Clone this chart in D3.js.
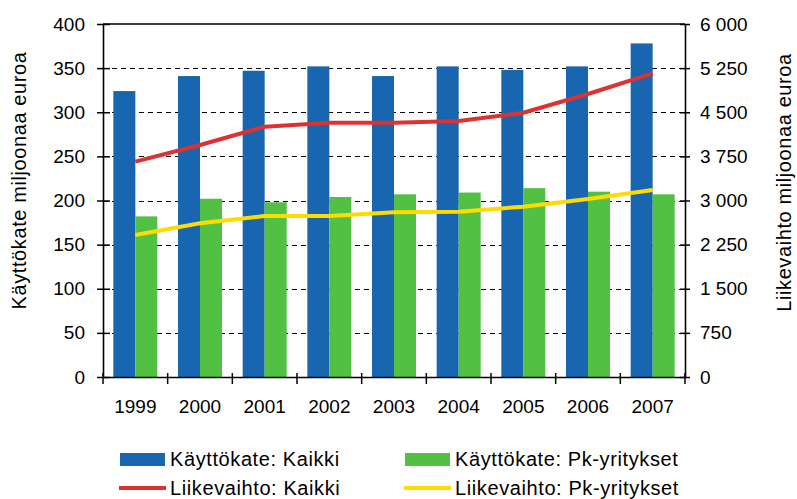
<!DOCTYPE html>
<html>
<head>
<meta charset="utf-8">
<script src="https://cdn.jsdelivr.net/npm/d3@7"></script>
<style>
  html, body { margin: 0; padding: 0; background: #fff; }
  svg { display: block; }
  text { font-family: "Liberation Sans", Arial, sans-serif; fill: #000; }
</style>
</head>
<body>
<svg id="chart" width="797" height="499"></svg>
<script>
// ---- data ----
const years = ["1999", "2000", "2001", "2002", "2003", "2004", "2005", "2006", "2007"];
const kayttokateKaikki = [324, 341, 347, 352, 341, 352, 348, 352, 378];
const kayttokatePk = [182, 202, 198, 204, 207, 209, 214, 210, 207];
const liikevaihtoKaikki = [3660, 3944, 4255, 4323, 4323, 4350, 4493, 4810, 5162];
const liikevaihtoPk = [2414, 2612, 2737, 2737, 2800, 2810, 2895, 3026, 3179];
const leftTicks = [0, 50, 100, 150, 200, 250, 300, 350, 400];
const rightTicks = [0, 750, 1500, 2250, 3000, 3750, 4500, 5250, 6000];
const barSeries = ["Käyttökate: Kaikki", "Käyttökate: Pk-yritykset"];
const lineSeries = ["Liikevaihto: Kaikki", "Liikevaihto: Pk-yritykset"];
const leftTitle = "Käyttökate miljoonaa euroa";
const rightTitle = "Liikevaihto miljoonaa euroa";

// ---- styles ----
const colors = {
  blue: "#1966b0",
  green: "#52c043",
  red: "#de3232",
  yellow: "#ffdc00"
};

const svg = d3.select("#chart");
const m = { left: 103, right: 685, top: 24, bottom: 377 };

const x0 = d3.scaleBand().domain(years).range([m.left, m.right]).padding(0);
const x1 = d3.scaleBand().domain(barSeries).range([0, x0.bandwidth()])
  .paddingInner(0).paddingOuter(0.47);
const yL = d3.scaleLinear().domain([0, 400]).range([m.bottom, m.top]);
const yR = d3.scaleLinear().domain([0, 6000]).range([m.bottom, m.top]);

const fiLocale = d3.formatLocale({ decimal: ",", thousands: " ", grouping: [3], currency: ["", " €"] });
const fmtR = fiLocale.format(",d");

// gridlines
svg.append("g").selectAll("line")
  .data(leftTicks.filter(d => d > 0 && d < 400))
  .join("line")
  .attr("x1", m.left).attr("x2", m.right)
  .attr("y1", d => Math.round(yL(d)) + 0.5).attr("y2", d => Math.round(yL(d)) + 0.5)
  .attr("stroke", "#000").attr("stroke-width", 1.2)
  .attr("stroke-dasharray", "5,4");

// top border
svg.append("line")
  .attr("x1", m.left).attr("x2", m.right)
  .attr("y1", m.top).attr("y2", m.top)
  .attr("stroke", "#000").attr("stroke-width", 1.5);

// bars
const barData = years.map((y, i) => ({ year: y, vals: [
  { key: barSeries[0], v: kayttokateKaikki[i], c: colors.blue },
  { key: barSeries[1], v: kayttokatePk[i], c: colors.green }
]}));
svg.append("g").selectAll("g")
  .data(barData).join("g")
  .attr("transform", d => `translate(${x0(d.year)},0)`)
  .selectAll("rect").data(d => d.vals).join("rect")
  .attr("x", d => x1(d.key))
  .attr("width", x1.bandwidth())
  .attr("y", d => yL(d.v))
  .attr("height", d => yL(0) - yL(d.v))
  .attr("fill", d => d.c);

// lines
const line = d3.line()
  .x((d, i) => x0(years[i]) + x0.bandwidth() / 2)
  .y(d => yR(d));
svg.append("path").datum(liikevaihtoKaikki)
  .attr("d", line).attr("fill", "none")
  .attr("stroke", colors.red).attr("stroke-width", 4);
svg.append("path").datum(liikevaihtoPk)
  .attr("d", line).attr("fill", "none")
  .attr("stroke", colors.yellow).attr("stroke-width", 4);

// axes
const axL = d3.axisLeft(yL).tickValues(leftTicks).tickSizeInner(6).tickSizeOuter(0).tickPadding(12);
const gL = svg.append("g").attr("transform", `translate(${m.left},0)`).call(axL);
const axR = d3.axisRight(yR).tickValues(rightTicks).tickFormat(fmtR).tickSizeInner(5).tickSizeOuter(0).tickPadding(10);
const gR = svg.append("g").attr("transform", `translate(${m.right},0)`).call(axR);
const axB = d3.axisBottom(x0).tickSize(0).tickPadding(23);
const gB = svg.append("g").attr("transform", `translate(0,${m.bottom})`).call(axB);

[gL, gR, gB].forEach(g => {
  g.select(".domain").attr("stroke", "#000").attr("stroke-width", 1.6);
  g.selectAll(".tick line").attr("stroke", "#000").attr("stroke-width", 1.5);
  g.selectAll("text").style("font-family", '"Liberation Sans", Arial, sans-serif')
    .style("font-size", "19px").attr("fill", "#000");
});
// ticks crossing the axes
gL.selectAll(".tick line").attr("x1", 7).attr("x2", -6);
gR.selectAll(".tick line").attr("x1", -5).attr("x2", 5);
// category separator ticks on bottom axis
const sep = d3.range(years.length + 1).map(i => m.left + i * x0.step());
svg.append("g").selectAll("line").data(sep).join("line")
  .attr("x1", d => d).attr("x2", d => d)
  .attr("y1", m.bottom - 4).attr("y2", m.bottom + 7)
  .attr("stroke", "#000").attr("stroke-width", 1.5);

// axis titles
svg.append("text")
  .attr("transform", `translate(26,${(m.top + m.bottom) / 2 - 20}) rotate(-90)`)
  .attr("text-anchor", "middle")
  .style("font-size", "20px").style("letter-spacing", "0.6px")
  .text(leftTitle);
svg.append("text")
  .attr("transform", `translate(791,${(m.top + m.bottom) / 2 - 18}) rotate(-90)`)
  .attr("text-anchor", "middle")
  .style("font-size", "20px").style("letter-spacing", "0.6px")
  .text(rightTitle);

// legend
const legend = svg.append("g");
const legItems = [
  { label: barSeries[0], type: "rect", c: colors.blue, x: 120, y: 459 },
  { label: barSeries[1], type: "rect", c: colors.green, x: 405, y: 459 },
  { label: lineSeries[0], type: "line", c: colors.red, x: 120, y: 488 },
  { label: lineSeries[1], type: "line", c: colors.yellow, x: 405, y: 488 }
];
legItems.forEach(it => {
  if (it.type === "rect") {
    legend.append("rect").attr("x", it.x).attr("y", it.y - 6).attr("width", 45).attr("height", 13).attr("fill", it.c);
  } else {
    legend.append("line").attr("x1", it.x - 1).attr("x2", it.x + 46).attr("y1", it.y).attr("y2", it.y)
      .attr("stroke", it.c).attr("stroke-width", 4);
  }
  legend.append("text").attr("x", it.x + 50).attr("y", it.y + 7)
    .style("font-size", "20px").style("letter-spacing", "0.6px")
    .text(it.label);
});
</script>
</body>
</html>
